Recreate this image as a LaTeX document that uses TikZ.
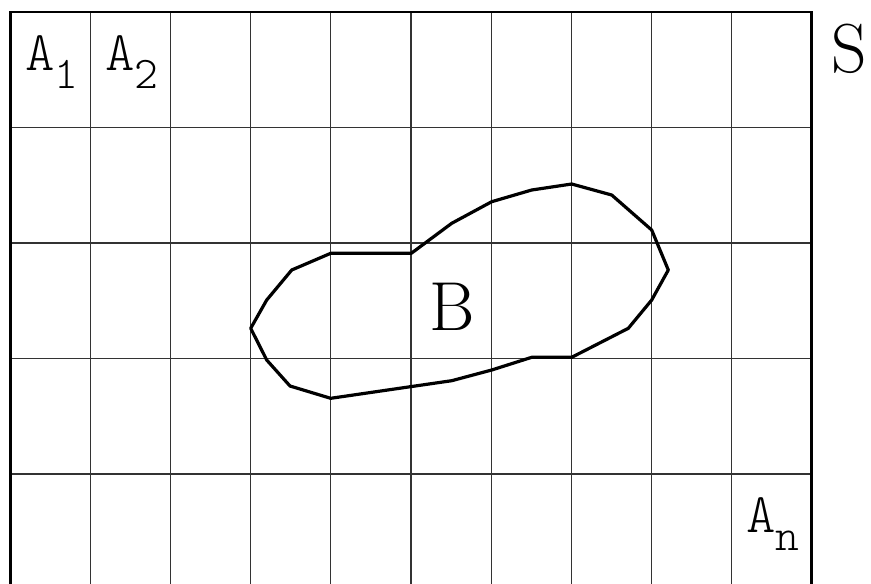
\documentclass[tikz,border=0pt]{standalone}
\usetikzlibrary{positioning}
\newcommand{\partlabel}[1]{A\raisebox{-13.5pt}{\fontsize{34}{36}\selectfont #1}}
\begin{document}
\begin{tikzpicture}[x=0.75pt,y=-0.75pt,
  cell/.style={draw=black!80, line width=0.8pt},
  frame/.style={draw=black, line width=1.7pt},
  blob/.style={draw=black, line width=2.4pt, line join=round},
  part/.style={font=\fontsize{42}{46}\fontseries{l}\ttfamily\selectfont, inner sep=0pt, anchor=base west},
  big/.style={font=\fontsize{52}{56}\selectfont, inner sep=0pt, anchor=base west},
]
\useasboundingbox (0,0) rectangle (871,583);

% partition of S into cells
\foreach \i in {1,...,9}
  \draw[cell] (10.5+80.1*\i,12) -- (10.5+80.1*\i,589.5);
\foreach \j in {1,...,4}
  \draw[cell] (10.5,12+115.5*\j) -- (811.5,12+115.5*\j);
\draw[frame] (10.5,12) rectangle (811.5,589.5);

% the set B
\draw[blob] (250.7,328.3) -- (266.7,300) -- (291.7,270) -- (330.7,253.3)
  -- (411.3,253.3) -- (451.7,223.3) -- (491.7,201.7) -- (531.7,190)
  -- (571.7,184) -- (611.7,195) -- (651.7,230) -- (668.3,270)
  -- (651.7,300) -- (628.3,328.3) -- (571.7,357.3) -- (531.7,357.3)
  -- (491.7,370) -- (451.7,380.7) -- (410.3,386.7) -- (330.7,398.3)
  -- (290,386) -- (266.7,360) -- cycle;

% labels
\node[part] (a1) at (25,70) {\partlabel{1}};
\node[part] (a2) at (105,70) {\partlabel{2}};
\node[part] (an) at (746,532) {\partlabel{n}};
\node[big] (s) at (831,72) {S};
\node[big] (b) at (429,330) {B};
\end{tikzpicture}
\end{document}
